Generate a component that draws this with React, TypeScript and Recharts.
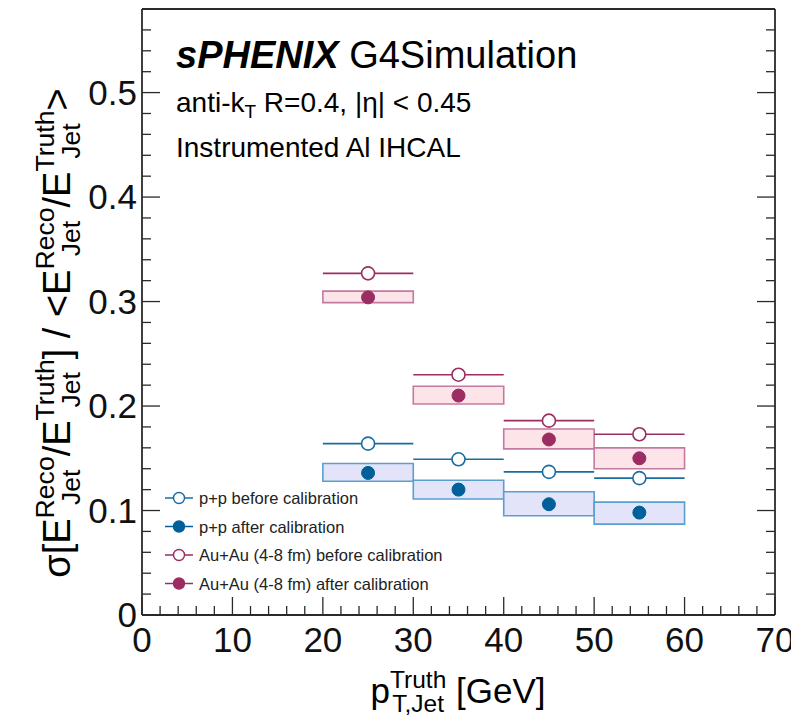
import React from 'react';
import { ComposedChart, XAxis, YAxis, Scatter, ReferenceArea, ReferenceLine } from 'recharts';

const binCenters = [25, 35, 45, 55];
const binHalfWidths = [5, 5, 5, 5];
const ppBefore = [0.164, 0.149, 0.137, 0.131];
const ppAfter = [0.136, 0.12, 0.106, 0.098];
const ppBoxLow = [0.128, 0.111, 0.095, 0.087];
const ppBoxHigh = [0.145, 0.129, 0.118, 0.108];
const auBefore = [0.327, 0.23, 0.186, 0.173];
const auAfter = [0.304, 0.21, 0.168, 0.15];
const auBoxLow = [0.299, 0.202, 0.159, 0.14];
const auBoxHigh = [0.31, 0.219, 0.178, 0.16];

const xTickLabels = ['0', '10', '20', '30', '40', '50', '60', '70'];
const yTickLabels = ['0', '0.1', '0.2', '0.3', '0.4', '0.5'];
const xTicks = Array.from({ length: 36 }, (_, i) => i * 2);
const yTicks = Array.from({ length: 29 }, (_, i) => Math.round(i * 2) / 100);

const legendLabels = [
  'p+p before calibration',
  'p+p after calibration',
  'Au+Au (4-8 fm) before calibration',
  'Au+Au (4-8 fm) after calibration',
];

const AU = '#9b2d62';
const AU_FILL = '#fde4e8';
const AU_BOX = '#c27aa0';
const PP = '#00609a';
const PP_LINE = '#1a6ca0';
const PP_FILL = '#e3e3fa';
const PP_BOX = '#5b9fcf';
const AXIS = '#2a2a2a';
const FONT = '"Liberation Sans", Arial, Helvetica, sans-serif';

const mk = (ys: number[]) => binCenters.map((x, i) => ({ x, y: ys[i] }));

const isMajorX = (v: number) => Math.round(v) % 10 === 0;
const isMajorY = (v: number) => Math.round(v * 100) % 10 === 0;

const BottomTick = (p: any) => {
  const v = p.payload.value;
  const major = isMajorX(v);
  return (
    <g>
      <line x1={p.x} x2={p.x} y1={p.y} y2={p.y - (major ? 18 : 9)} stroke={AXIS} strokeWidth={1.3} />
      {major && (
        <text x={p.x} y={p.y + 37} textAnchor="middle" fontSize={35} fontFamily={FONT} fill="#111">
          {xTickLabels[Math.round(v / 10)]}
        </text>
      )}
    </g>
  );
};
const TopTick = (p: any) => {
  const major = isMajorX(p.payload.value);
  return <line x1={p.x} x2={p.x} y1={p.y} y2={p.y + (major ? 18 : 9)} stroke={AXIS} strokeWidth={1.3} />;
};
const LeftTick = (p: any) => {
  const v = p.payload.value;
  const major = isMajorY(v);
  return (
    <g>
      <line x1={p.x} x2={p.x + (major ? 18 : 9)} y1={p.y} y2={p.y} stroke={AXIS} strokeWidth={1.3} />
      {major && (
        <text x={p.x - 5} y={p.y + 12} textAnchor="end" fontSize={35} fontFamily={FONT} fill="#111">
          {yTickLabels[Math.round(v * 10)]}
        </text>
      )}
    </g>
  );
};
const RightTick = (p: any) => {
  const major = isMajorY(p.payload.value);
  return <line x1={p.x} x2={p.x - (major ? 18 : 9)} y1={p.y} y2={p.y} stroke={AXIS} strokeWidth={1.3} />;
};

const openCircle = (color: string) => (p: any) =>
  <circle cx={p.cx} cy={p.cy} r={6.5} fill="#fff" stroke={color} strokeWidth={1.6} />;
const filledCircle = (color: string) => (p: any) =>
  <circle cx={p.cx} cy={p.cy} r={6.5} fill={color} stroke={color} strokeWidth={1} />;

const Stack = ({ sup, sub }: { sup: string; sub: string }) => (
  <span
    style={{
      display: 'inline-flex',
      flexDirection: 'column',
      fontSize: '0.7em',
      lineHeight: 1,
      position: 'relative',
      top: '-0.62em',
      verticalAlign: 'baseline',
    }}
  >
    <span>{sup}</span>
    <span>{sub}</span>
  </span>
);

export default function App() {
  const axisLine = { stroke: AXIS, strokeWidth: 1.8 };
  const legendRows = [
    { color: PP_LINE, open: true },
    { color: PP, open: false },
    { color: AU, open: true },
    { color: AU, open: false },
  ];
  return (
    <div style={{ position: 'relative', width: 799, height: 723, margin: -8, overflow: 'hidden', fontFamily: FONT, background: '#fff' }}>
      <ComposedChart width={799} height={723} margin={{ top: 8, right: 0, bottom: 0, left: 0 }}>
        <XAxis
          xAxisId={0}
          dataKey="x"
          type="number"
          domain={[0, 70]}
          ticks={xTicks}
          interval={0}
          allowDataOverflow
          height={108}
          tickSize={0}
          tickMargin={0}
          tickLine={false}
          axisLine={axisLine}
          tick={<BottomTick />}
        />
        <XAxis
          xAxisId="top"
          orientation="top"
          type="number"
          domain={[0, 70]}
          ticks={xTicks}
          interval={0}
          allowDataOverflow
          height={1}
          tickSize={0}
          tickMargin={0}
          tickLine={false}
          axisLine={axisLine}
          tick={<TopTick />}
        />
        <YAxis
          yAxisId={0}
          type="number"
          domain={[0, 0.58]}
          ticks={yTicks}
          interval={0}
          allowDataOverflow
          width={142}
          tickSize={0}
          tickMargin={0}
          tickLine={false}
          axisLine={axisLine}
          tick={<LeftTick />}
        />
        <YAxis
          yAxisId="right"
          orientation="right"
          type="number"
          domain={[0, 0.58]}
          ticks={yTicks}
          interval={0}
          allowDataOverflow
          width={24}
          tickSize={0}
          tickMargin={0}
          tickLine={false}
          axisLine={axisLine}
          tick={<RightTick />}
        />
        {binCenters.map((c, i) => (
          <ReferenceArea
            key={'pb' + i}
            x1={c - binHalfWidths[i]}
            x2={c + binHalfWidths[i]}
            y1={ppBoxLow[i]}
            y2={ppBoxHigh[i]}
            fill={PP_FILL}
            fillOpacity={1}
            stroke={PP_BOX}
            strokeWidth={1.6}
          />
        ))}
        {binCenters.map((c, i) => (
          <ReferenceArea
            key={'ab' + i}
            x1={c - binHalfWidths[i]}
            x2={c + binHalfWidths[i]}
            y1={auBoxLow[i]}
            y2={auBoxHigh[i]}
            fill={AU_FILL}
            fillOpacity={1}
            stroke={AU_BOX}
            strokeWidth={1.6}
          />
        ))}
        {binCenters.map((c, i) => (
          <ReferenceLine
            key={'pl' + i}
            segment={[
              { x: c - binHalfWidths[i], y: ppBefore[i] },
              { x: c + binHalfWidths[i], y: ppBefore[i] },
            ]}
            stroke={PP_LINE}
            strokeWidth={1.6}
          />
        ))}
        {binCenters.map((c, i) => (
          <ReferenceLine
            key={'al' + i}
            segment={[
              { x: c - binHalfWidths[i], y: auBefore[i] },
              { x: c + binHalfWidths[i], y: auBefore[i] },
            ]}
            stroke={AU}
            strokeWidth={1.6}
          />
        ))}
        <Scatter data={mk(ppBefore)} dataKey="y" shape={openCircle(PP_LINE)} isAnimationActive={false} />
        <Scatter data={mk(ppAfter)} dataKey="y" shape={filledCircle(PP)} isAnimationActive={false} />
        <Scatter data={mk(auBefore)} dataKey="y" shape={openCircle(AU)} isAnimationActive={false} />
        <Scatter data={mk(auAfter)} dataKey="y" shape={filledCircle(AU)} isAnimationActive={false} />
      </ComposedChart>

      <svg width={799} height={723} style={{ position: 'absolute', left: 0, top: 0, pointerEvents: 'none' }}>
        <text x={176} y={68} fontFamily={FONT} fontSize={38} fill="#000">
          <tspan fontWeight="bold" fontStyle="italic">sPHENIX</tspan>
          <tspan> G4Simulation</tspan>
        </text>
        <text x={176} y={112} fontFamily={FONT} fontSize={28} fill="#000">
          anti-k<tspan fontSize={19} dy={6}>T</tspan>
          <tspan dy={-6}> R=0.4, |η| &lt; 0.45</tspan>
        </text>
        <text x={176} y={157} fontFamily={FONT} fontSize={28} fill="#000">
          Instrumented Al IHCAL
        </text>
        {legendRows.map((r, i) => {
          const y = 498 + i * 28.5;
          return (
            <g key={i}>
              <line x1={165} x2={193} y1={y} y2={y} stroke={r.color} strokeWidth={1.5} />
              <circle cx={179} cy={y} r={5.5} fill={r.open ? '#fff' : r.color} stroke={r.color} strokeWidth={1.4} />
              <text x={199} y={y + 6} fontFamily={FONT} fontSize={16.5} fill="#222">
                {legendLabels[i]}
              </text>
            </g>
          );
        })}
      </svg>

      <div
        style={{
          position: 'absolute',
          left: 258,
          width: 400,
          top: 673,
          fontSize: 35,
          lineHeight: '35px',
          textAlign: 'center',
          whiteSpace: 'nowrap',
          color: '#000',
        }}
      >
        p<Stack sup="Truth" sub="T,Jet" /> [GeV]
      </div>

      <div
        style={{
          position: 'absolute',
          left: 57 - 350,
          width: 700,
          top: 333 - 19,
          height: 38,
          fontSize: 38,
          lineHeight: '38px',
          textAlign: 'center',
          whiteSpace: 'nowrap',
          color: '#000',
          transform: 'rotate(-90deg)',
          transformOrigin: '50% 50%',
        }}
      >
        σ[E<Stack sup="Reco" sub="Jet" />/E<Stack sup="Truth" sub="Jet" />] / &lt;E<Stack sup="Reco" sub="Jet" />/E
        <Stack sup="Truth" sub="Jet" />&gt;
      </div>
    </div>
  );
}
